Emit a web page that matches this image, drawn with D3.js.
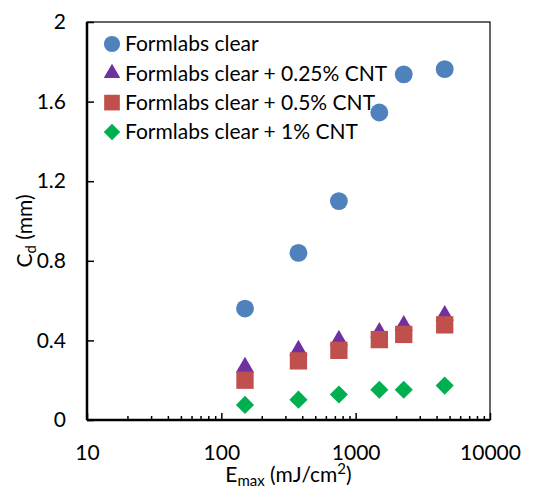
<!DOCTYPE html>
<html>
<head>
<meta charset="utf-8">
<script src="https://cdn.jsdelivr.net/npm/d3@7"></script>
<style>
    body { margin: 0; background: #fff; }
    text { font-family: Lato, "Open Sans", sans-serif; fill: #000; }
</style>
</head>
<body>
<svg id="chart" width="549" height="490"></svg>
<script>
const energy = [150, 375, 750, 1500, 2280, 4600];
const seriesNames = [
    "Formlabs clear",
    "Formlabs clear + 0.25% CNT",
    "Formlabs clear + 0.5% CNT",
    "Formlabs clear + 1% CNT"
];
const clearVals = [0.56, 0.84, 1.10, 1.545, 1.737, 1.763];
const cnt025Vals = [0.265, 0.35, 0.40, 0.44, 0.475, 0.525];
const cnt05Vals = [0.20, 0.297, 0.35, 0.404, 0.43, 0.478];
const cnt1Vals = [0.076, 0.102, 0.128, 0.152, 0.152, 0.173];
const xTicks = [10, 100, 1000, 10000];
const yTicks = [0, 0.4, 0.8, 1.2, 1.6, 2];

const width = 549, height = 490;
const padding = {top: 22, right: 59, bottom: 70, left: 87};
const innerWidth = width - padding.left - padding.right;
const innerHeight = height - padding.top - padding.bottom;

// diamond = square turned 45 degrees
const series = [
    {name: seriesNames[0], values: clearVals, color: "#4F81BD", symbol: d3.symbolCircle, size: 250, rot: 0},
    {name: seriesNames[1], values: cnt025Vals, color: "#7030A0", symbol: d3.symbolTriangle, size: 145, rot: 0},
    {name: seriesNames[2], values: cnt05Vals, color: "#C0504D", symbol: d3.symbolSquare, size: 300, rot: 0},
    {name: seriesNames[3], values: cnt1Vals, color: "#00B050", symbol: d3.symbolSquare, size: 165, rot: 45}
];

const x = d3.scaleLog().domain([10, 10000]).range([0, innerWidth]);
const y = d3.scaleLinear().domain([0, 2]).range([innerHeight, 0]);

const svg = d3.select("#chart");
const g = svg.append("g")
    .attr("transform", `translate(${padding.left},${padding.top})`);

// plot frame
g.append("rect")
    .attr("x", 0).attr("y", 0)
    .attr("width", innerWidth).attr("height", innerHeight)
    .attr("fill", "none")
    .attr("stroke", "#000")
    .attr("stroke-width", 1.2);

// x axis, ticks inside
const minorTicks = [];
for (let dec = 10; dec < 10000; dec *= 10) {
    for (let k = 2; k <= 9; k++) minorTicks.push(dec * k);
}
g.append("g")
    .attr("class", "axis x-minor")
    .attr("transform", `translate(0,${innerHeight})`)
    .call(d3.axisBottom(x).tickValues(minorTicks).tickSize(-4).tickFormat(""))
    .call(s => s.select(".domain").remove())
    .call(s => s.selectAll("text").remove());

const xAxis = g.append("g")
    .attr("class", "axis x")
    .attr("transform", `translate(0,${innerHeight})`)
    .call(d3.axisBottom(x).tickValues(xTicks).tickSize(-7).tickPadding(25).tickFormat(d3.format("d")));
xAxis.select(".domain").attr("stroke-width", 2.5).attr("d", `M0,0H${innerWidth}`);
xAxis.selectAll("text").style("font-size", "21px");

const yAxis = g.append("g")
    .attr("class", "axis y")
    .call(d3.axisLeft(y).tickValues(yTicks).tickSize(-7).tickPadding(21).tickFormat(d => d));
yAxis.select(".domain").attr("stroke-width", 2.5).attr("d", `M0,0V${innerHeight}`);
yAxis.selectAll("text").style("font-size", "21px");
g.selectAll(".axis line").attr("stroke", "#000").attr("stroke-width", 1.5);

// points
series.forEach(s => {
    g.append("g")
        .attr("class", "series")
        .selectAll("path")
        .data(s.values.map((v, i) => ({x: energy[i], y: v})))
        .enter()
        .append("path")
        .attr("transform", d => `translate(${x(d.x)},${y(d.y)}) rotate(${s.rot})`)
        .attr("d", d3.symbol().type(s.symbol).size(s.size))
        .attr("fill", s.color);
});

// legend
const legend = g.append("g").attr("transform", "translate(25,22)");
series.forEach((s, i) => {
    const row = legend.append("g").attr("transform", `translate(0,${i * 29.3})`);
    row.append("path")
        .attr("transform", `rotate(${s.rot})`)
        .attr("d", d3.symbol().type(s.symbol).size(s.size * 0.82))
        .attr("fill", s.color);
    row.append("text")
        .attr("x", 13)
        .attr("dy", "0.35em")
        .style("font-size", "21px")
        .text(s.name);
});

// axis titles
const xTitle = svg.append("text")
    .attr("x", padding.left + innerWidth / 2)
    .attr("y", 482)
    .attr("text-anchor", "middle")
    .style("font-size", "21px");
xTitle.append("tspan").text("E");
xTitle.append("tspan").attr("dy", 4).style("font-size", "15px").text("max");
xTitle.append("tspan").attr("dy", -4).text(" (mJ/cm");
xTitle.append("tspan").attr("dy", -8).style("font-size", "15px").text("2");
xTitle.append("tspan").attr("dy", 8).text(")");

const yTitle = svg.append("text")
    .attr("transform", `translate(32,${padding.top + innerHeight / 2 + 10}) rotate(-90)`)
    .attr("text-anchor", "middle")
    .style("font-size", "21px");
yTitle.append("tspan").text("C");
yTitle.append("tspan").attr("dy", 4).style("font-size", "15px").text("d");
yTitle.append("tspan").attr("dy", -4).text(" (mm)");
</script>
</body>
</html>
